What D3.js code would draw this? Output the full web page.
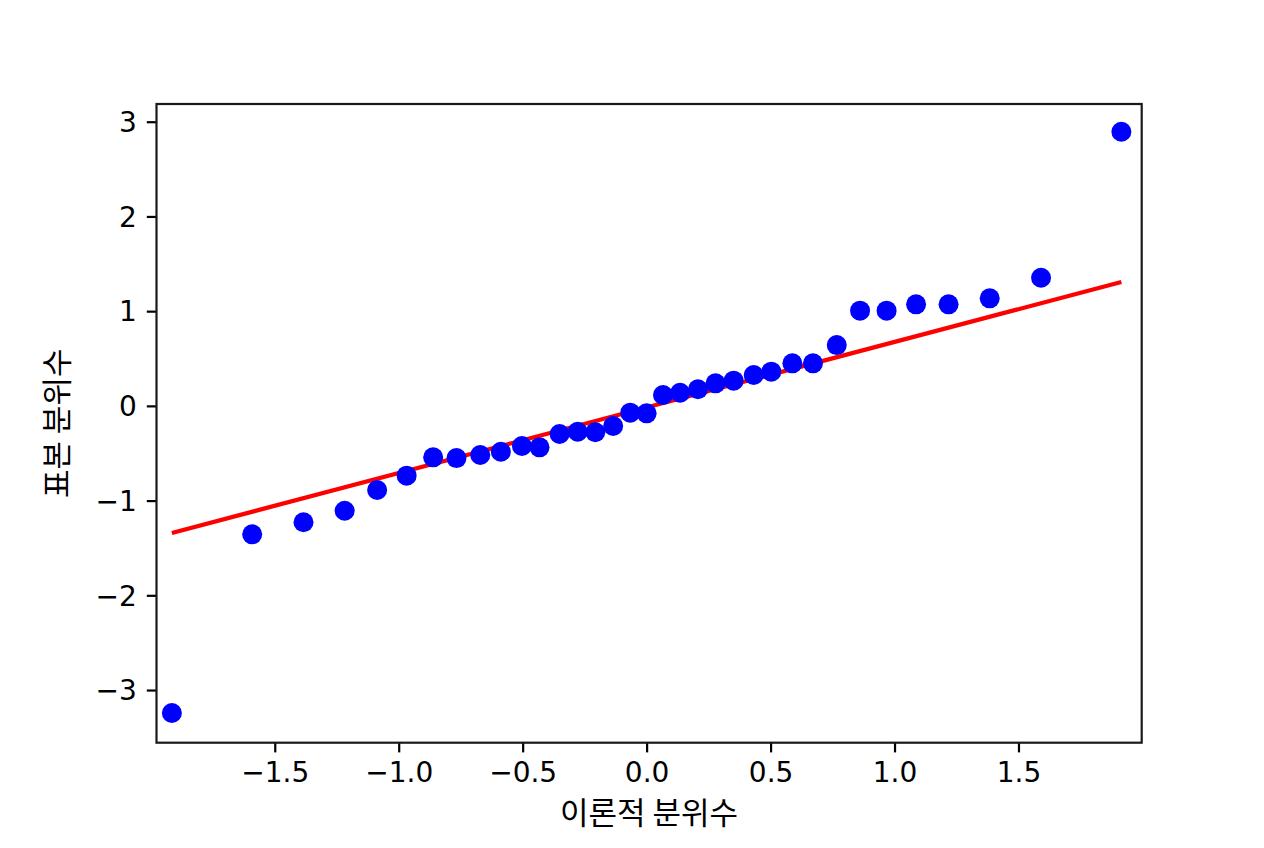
<!DOCTYPE html>
<html>
<head>
<meta charset="utf-8">
<script src="https://cdn.jsdelivr.net/npm/d3@7"></script>
<style>
  body { margin: 0; background: #fff; }
  text { fill: #000; }
</style>
</head>
<body>
<svg id="qqChart" width="1264" height="848"></svg>
<script>
// theoretical quantiles (x) and ordered sample values (y)
const theoretical = [
  -1.915, -1.591, -1.384, -1.218, -1.087, -0.968, -0.861, -0.767, -0.671,
  -0.588, -0.503, -0.432, -0.351, -0.278, -0.207, -0.135, -0.066, 0.0,
  0.066, 0.135, 0.207, 0.278, 0.351, 0.432, 0.503, 0.588, 0.671, 0.767,
  0.861, 0.968, 1.087, 1.218, 1.384, 1.591, 1.915,
];
const sample = [
  -3.243, -1.356, -1.229, -1.107, -0.888, -0.737, -0.543, -0.551, -0.519,
  -0.484, -0.424, -0.438, -0.297, -0.273, -0.279, -0.213, -0.072, -0.079,
  0.115, 0.139, 0.175, 0.238, 0.266, 0.326, 0.361, 0.449, 0.449, 0.642,
  1.005, 1.005, 1.072, 1.072, 1.135, 1.353, 2.894,
];
// least squares fit line
const fitSlope = 0.692;
const fitIntercept = -0.017;

const xTicks = [-1.5, -1.0, -0.5, 0.0, 0.5, 1.0, 1.5];
const yTicks = [-3, -2, -1, 0, 1, 2, 3];
const xDomain = [-1.977, 1.997];
const yDomain = [-3.556, 3.187];

const xAxisLabel = "이론적 분위수";
const yAxisLabel = "표본 분위수";

const svg = d3.select("#qqChart");
const margin = { top: 104, left: 156.5, right: 1264 - 1141.7, bottom: 848 - 742.7 };
const innerWidth = 1264 - margin.left - margin.right;
const innerHeight = 848 - margin.top - margin.bottom;

const xScale = d3.scaleLinear().domain(xDomain).range([0, innerWidth]);
const yScale = d3.scaleLinear().domain(yDomain).range([innerHeight, 0]);

const g = svg.append("g").attr("transform", `translate(${margin.left},${margin.top})`);

const fmtX = (d) => d3.format(".1f")(d).replace("-", "\u2212");
const fmtY = (d) => d3.format("d")(d).replace("-", "\u2212");

const tickFont = "'DejaVu Sans', sans-serif";

// x axis
const xAxisG = g.append("g")
  .attr("transform", `translate(0,${innerHeight})`)
  .call(d3.axisBottom(xScale).tickValues(xTicks).tickFormat(fmtX).tickSize(9.7).tickPadding(10));

// y axis
const yAxisG = g.append("g")
  .call(d3.axisLeft(yScale).tickValues(yTicks).tickFormat(fmtY).tickSize(9.7).tickPadding(10));

[xAxisG, yAxisG].forEach((ax) => {
  ax.select(".domain").remove();
  ax.selectAll(".tick line").attr("stroke", "#000").attr("stroke-width", 2.2);
  ax.selectAll(".tick text")
    .attr("font-family", tickFont)
    .attr("font-size", 28)
    .attr("fill", "#1a1a1a");
});
xAxisG.selectAll(".tick text").attr("dy", "0.71em");
yAxisG.selectAll(".tick text").attr("dy", "0.35em");

const chart = g.append("g");

// fit line
chart.append("line")
  .attr("x1", xScale(d3.min(theoretical)))
  .attr("y1", yScale(fitIntercept + fitSlope * d3.min(theoretical)))
  .attr("x2", xScale(d3.max(theoretical)))
  .attr("y2", yScale(fitIntercept + fitSlope * d3.max(theoretical)))
  .attr("stroke", "#ff0000")
  .attr("stroke-width", 4.2);

// points
chart.selectAll("circle")
  .data(theoretical.map((t, i) => ({ t, s: sample[i] })))
  .enter()
  .append("circle")
  .attr("cx", (d) => xScale(d.t))
  .attr("cy", (d) => yScale(d.s))
  .attr("r", 10)
  .attr("fill", "#0000ff");

// frame
g.append("rect")
  .attr("width", innerWidth)
  .attr("height", innerHeight)
  .attr("fill", "none")
  .attr("stroke", "#1a1a1a")
  .attr("stroke-width", 2.2);

// axis titles
const labelFont = "'Noto Sans CJK KR', sans-serif";
svg.append("text")
  .text(xAxisLabel)
  .attr("x", margin.left + innerWidth / 2)
  .attr("y", 824)
  .attr("text-anchor", "middle")
  .attr("font-family", labelFont)
  .attr("font-size", 31)
  .attr("fill", "#1a1a1a");

svg.append("text")
  .text(yAxisLabel)
  .attr("transform", `translate(68,${margin.top + innerHeight / 2}) rotate(-90)`)
  .attr("text-anchor", "middle")
  .attr("font-family", labelFont)
  .attr("font-size", 31)
  .attr("fill", "#1a1a1a");
</script>
</body>
</html>
